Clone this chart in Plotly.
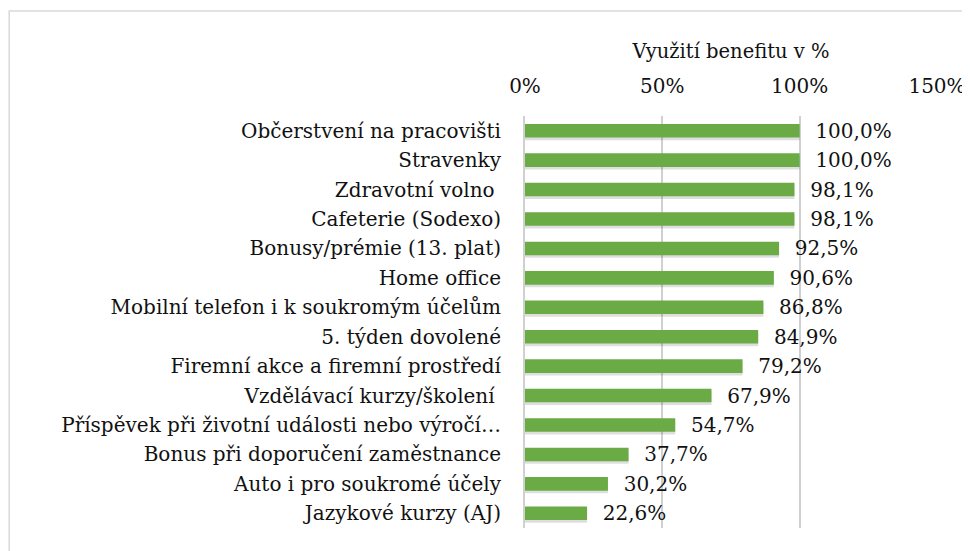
import plotly.graph_objects as go

categories = [
    "Občerstvení na pracovišti",
    "Stravenky",
    "Zdravotní volno ",
    "Cafeterie (Sodexo)",
    "Bonusy/prémie (13. plat)",
    "Home office",
    "Mobilní telefon i k soukromým účelům",
    "5. týden dovolené",
    "Firemní akce a firemní prostředí",
    "Vzdělávací kurzy/školení ",
    "Příspěvek při životní události nebo výročí…",
    "Bonus při doporučení zaměstnance",
    "Auto i pro soukromé účely",
    "Jazykové kurzy (AJ)",
]
values = [100.0, 100.0, 98.1, 98.1, 92.5, 90.6, 86.8, 84.9, 79.2, 67.9, 54.7, 37.7, 30.2, 22.6]
x_ticks = [0, 50, 100, 150]
x_title = "Využití benefitu v %"

FONT = "DejaVu Serif"
BAR_W = 0.46

fig = go.Figure()
# soft shadow under each bar
fig.add_trace(go.Bar(
    y=categories,
    x=values,
    orientation="h",
    width=BAR_W,
    offset=-BAR_W / 2 + 0.09,
    marker=dict(color="rgba(0,0,0,0.13)", line=dict(width=0)),
    hoverinfo="skip",
    cliponaxis=False,
))
fig.add_trace(go.Bar(
    y=categories,
    x=values,
    orientation="h",
    width=BAR_W,
    offset=-BAR_W / 2,
    marker=dict(color="#6aab45", line=dict(width=0)),
    texttemplate="\u00a0\u00a0%{x:.1f}%",
    textposition="outside",
    constraintext="none",
    textfont=dict(family=FONT, size=20, color="#111111"),
    cliponaxis=False,
))

fig.update_layout(
    width=970, height=551,
    margin=dict(l=517, r=41, t=108, b=31),
    paper_bgcolor="white",
    plot_bgcolor="white",
    separators=", ",
    showlegend=False,
    barmode="overlay",
    font=dict(family=FONT, size=20, color="#111111"),
    xaxis=dict(
        side="top",
        range=[0, 150],
        tickvals=x_ticks,
        ticktext=[f"{v}%" for v in x_ticks],
        showgrid=True,
        gridcolor="#d0d0d0",
        gridwidth=1.5,
        zeroline=False,
        showline=False,
        automargin=False,
        tickfont=dict(family=FONT, size=20, color="#111111"),
        ticks="",
        ticklabelstandoff=18,
        title=dict(text=x_title, font=dict(family=FONT, size=19.5, color="#111111"), standoff=10),
        fixedrange=True,
    ),
    yaxis=dict(
        autorange="reversed",
        showline=True,
        linecolor="#d0d0d0",
        linewidth=2,
        ticks="",
        automargin=False,
        ticklabelstandoff=18,
        tickfont=dict(family=FONT, size=20, color="#111111"),
        fixedrange=True,
    ),
)

fig.add_shape(type="rect", xref="paper", yref="paper",
              x0=-1.252, x1=1.1, y0=-0.2, y1=1.255,
              line=dict(color="#d9d9d9", width=1.5), layer="below")

fig.write_html("out.html")
